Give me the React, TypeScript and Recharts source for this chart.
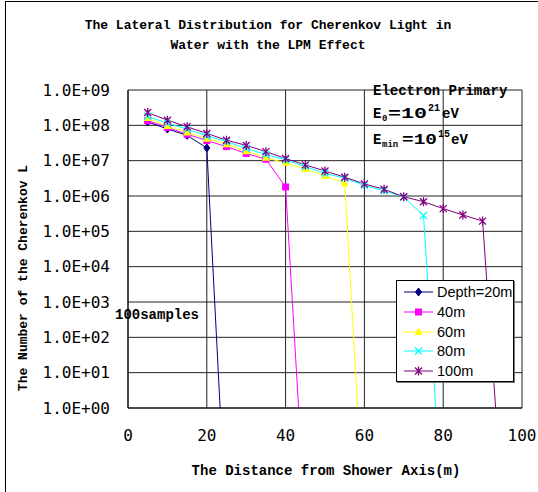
import React from "react";
import { LineChart, Line, XAxis, YAxis, CartesianGrid, Legend } from "recharts";

// distancia do eixo do chuveiro (m)
const distancias = [5, 10, 15, 20, 25, 30, 35, 40, 45, 50, 55, 60, 65, 70, 75, 80, 85, 90, 95];

// numero de fotons Cherenkov por profundidade (ultimo valor cai fora do grafico)
const prof20 = [1.25e8, 7.9e7, 5.2e7, 2.3e7, 3e-4];
const prof40 = [1.35e8, 8.7e7, 5.6e7, 3.7e7, 2.5e7, 1.6e7, 1.1e7, 1.8e6, 6e-4];
const prof60 = [1.6e8, 9.5e7, 6.3e7, 4.2e7, 2.9e7, 1.85e7, 1.2e7, 8.7e6, 5.8e6, 3.7e6, 2.3e6, 5e-4];
const prof80 = [
  1.8e8, 1.15e8, 7.8e7, 5.0e7, 3.5e7, 2.2e7, 1.5e7, 1.05e7, 6.8e6, 4.4e6, 3.2e6, 2.0e6, 1.4e6, 9.3e5,
  2.8e5, 5e-4,
];
const prof100 = [
  2.3e8, 1.4e8, 9.1e7, 5.9e7, 3.8e7, 2.7e7, 1.8e7, 1.15e7, 7.6e6, 5.1e6, 3.4e6, 2.2e6, 1.55e6, 9.5e5,
  6.9e5, 4.4e5, 2.9e5, 1.95e5, 2e-3,
];

const xTicks = [0, 20, 40, 60, 80, 100];
const yTicks = [1e0, 1e1, 1e2, 1e3, 1e4, 1e5, 1e6, 1e7, 1e8, 1e9];

const SERIES = [
  { key: "p20", name: "Depth=20m", valores: prof20, cor: "#000080", forma: "diamond" },
  { key: "p40", name: "40m", valores: prof40, cor: "#FF00FF", forma: "square" },
  { key: "p60", name: "60m", valores: prof60, cor: "#FFFF00", forma: "triangle" },
  { key: "p80", name: "80m", valores: prof80, cor: "#00FFFF", forma: "x" },
  { key: "p100", name: "100m", valores: prof100, cor: "#800080", forma: "star" },
];

const dados = distancias.map((x, i) => {
  const linha: Record<string, number | null> = { x };
  SERIES.forEach((s) => {
    linha[s.key] = i < s.valores.length ? s.valores[i] : null;
  });
  return linha;
});

const MONO = "'Liberation Mono', 'Courier New', monospace";

function Marcador({ forma, cor, cx, cy }: { forma: string; cor: string; cx: number; cy: number }) {
  switch (forma) {
    case "diamond":
      return <path d={`M${cx},${cy - 4}L${cx + 3},${cy}L${cx},${cy + 4}L${cx - 3},${cy}Z`} fill={cor} stroke={cor} />;
    case "square":
      return <rect x={cx - 3.5} y={cy - 3.5} width={7} height={7} fill={cor} />;
    case "triangle":
      return <path d={`M${cx},${cy - 4.5}L${cx + 4},${cy + 3}L${cx - 4},${cy + 3}Z`} fill={cor} />;
    case "x":
      return (
        <path d={`M${cx - 3.5},${cy - 3.5}L${cx + 3.5},${cy + 3.5}M${cx - 3.5},${cy + 3.5}L${cx + 3.5},${cy - 3.5}`} stroke={cor} strokeWidth={1.3} />
      );
    default:
      return (
        <path
          d={`M${cx - 3.5},${cy - 3.5}L${cx + 3.5},${cy + 3.5}M${cx - 3.5},${cy + 3.5}L${cx + 3.5},${cy - 3.5}M${cx},${cy - 4.5}L${cx},${cy + 4.5}`}
          stroke={cor}
          strokeWidth={1.3}
        />
      );
  }
}

const formatY = (v: number) => {
  const e = Math.round(Math.log10(v));
  return `1.0E+${String(e).padStart(2, "0")}`;
};

function Legenda() {
  return (
    <div
      style={{
        width: 118,
        height: 102,
        boxSizing: "border-box",
        border: "1px solid #000",
        background: "#fff",
        boxShadow: "1px 1px 0 #777",
        position: "relative",
        fontFamily: "'Liberation Sans', Arial, sans-serif",
        fontSize: 14.5,
        color: "#000",
      }}
    >
      {SERIES.map((s, i) => (
        <div key={s.key} style={{ position: "absolute", left: 0, top: 1 + i * 19.8, height: 20, display: "flex", alignItems: "center" }}>
          <svg width={40} height={20} style={{ display: "block" }}>
            <line x1={7} x2={36} y1={10} y2={10} stroke={s.cor} strokeWidth={1} />
            <Marcador forma={s.forma} cor={s.cor} cx={21.5} cy={10} />
          </svg>
          <span style={{ marginLeft: 0, lineHeight: "20px" }}>{s.name}</span>
        </div>
      ))}
    </div>
  );
}

export default function App() {
  return (
    <div style={{ position: "absolute", left: 0, top: 0, width: 538, height: 492, overflow: "hidden", background: "#fff" }}>
      <div style={{ position: "absolute", left: 5, top: 1, width: 700, height: 700, borderLeft: "1px solid #000", borderTop: "1px solid #000" }} />
      <LineChart width={538} height={492} data={dados} margin={{ top: 90, right: 16, bottom: 34, left: 0 }}>
        <CartesianGrid stroke="#222" strokeWidth={1} ticks={yTicks} />
        <XAxis
          dataKey="x"
          type="number"
          domain={[0, 100]}
          ticks={xTicks}
          interval={0}
          height={50}
          axisLine={{ stroke: "#000" }}
          tickLine={false}
          tickSize={0}
          tickMargin={22}
          tick={{ fontFamily: "'DejaVu Sans Mono', monospace", fontSize: 16, fill: "#000" }}
        />
        <YAxis
          type="number"
          scale="log"
          domain={[1, 1e9]}
          ticks={yTicks}
          interval={0}
          allowDataOverflow
          width={128}
          axisLine={{ stroke: "#000" }}
          tickLine={false}
          tickSize={0}
          tickMargin={18}
          tickFormatter={formatY}
          tick={{ fontFamily: "'DejaVu Sans Mono', monospace", fontSize: 16, fill: "#000" }}
        />
        {SERIES.map((s) => (
          <Line
            key={s.key}
            dataKey={s.key}
            name={s.name}
            type="linear"
            stroke={s.cor}
            strokeWidth={1}
            isAnimationActive={false}
            dot={(p: any) => {
              if (p.value == null || p.value < 1 || p.cx == null) return <g key={`d-${s.key}-${p.index}`} />;
              return (
                <g key={`d-${s.key}-${p.index}`}>
                  <Marcador forma={s.forma} cor={s.cor} cx={p.cx} cy={p.cy} />
                </g>
              );
            }}
            activeDot={false}
          />
        ))}
        <Legend
          layout="vertical"
          align="center"
          verticalAlign="middle"
          wrapperStyle={{ left: 396, top: 280, width: 118, height: 102 }}
          content={() => <Legenda />}
        />
      </LineChart>
      <svg width={538} height={492} style={{ position: "absolute", left: 0, top: 0, pointerEvents: "none" }}>
        <g fontFamily={MONO} fontWeight="bold" fill="#000">
          <text x={268} y={29} fontSize={13} textAnchor="middle">
            The Lateral Distribution for Cherenkov Light in
          </text>
          <text x={268} y={49} fontSize={13} textAnchor="middle">
            Water with the LPM Effect
          </text>
          <text x={326} y={475} fontSize={14} textAnchor="middle">
            The Distance from Shower Axis(m)
          </text>
          <text transform="translate(27,278) rotate(-90)" fontSize={13} textAnchor="middle">
            The Number of the Cherenkov L
          </text>
          <text x={115} y={319} fontSize={14}>
            100samples
          </text>
          <text x={373} y={95} fontSize={14}>
            Electron Primary
          </text>
          <text y={118} fontSize={14}>
            <tspan x={373}>E</tspan>
            <tspan x={382} dy={3} fontSize={9}>0</tspan>
            <tspan x={388} dy={-3} textLength={39} lengthAdjust="spacingAndGlyphs">=10</tspan>
            <tspan x={428} dy={-7} fontSize={10}>21</tspan>
            <tspan x={442} dy={7}>eV</tspan>
          </text>
          <text y={144} fontSize={14}>
            <tspan x={373}>E</tspan>
            <tspan x={382} dy={3} fontSize={9}>min</tspan>
            <tspan x={402} dy={-3} textLength={35} lengthAdjust="spacingAndGlyphs">=10</tspan>
            <tspan x={438} dy={-7} fontSize={10}>15</tspan>
            <tspan x={451} dy={7}>eV</tspan>
          </text>
        </g>
      </svg>
    </div>
  );
}
